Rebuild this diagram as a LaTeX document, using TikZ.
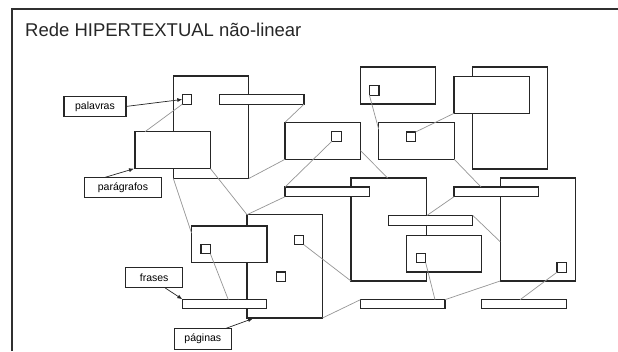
\documentclass[tikz,border=0pt]{standalone}
\usepackage{fontspec}
\setmainfont{Liberation Sans}
\usetikzlibrary{calc,arrows.meta}
\definecolor{boxc}{HTML}{262626}
\definecolor{linkc}{HTML}{959595}
\definecolor{framec}{HTML}{303030}
\begin{document}
\begin{tikzpicture}[x=1pt,y=-1pt,
  box/.style={draw=boxc, line width=1.2pt, fill=white, inner sep=0pt, outer sep=0pt, anchor=north west},
  page/.style={box, minimum width=75.5pt, minimum height=102.5pt},
  card/.style={box, minimum width=75.5pt, minimum height=37pt},
  bar/.style={box, minimum width=84.5pt, minimum height=9.5pt},
  sq/.style={box, minimum width=9.5pt, minimum height=9.5pt},
  lab/.style={box, line width=1.1pt, minimum height=20.5pt, font=\fontsize{10.5}{12}\selectfont},
  link/.style={draw=linkc, line width=0.7pt},
  arr/.style={draw=boxc, line width=0.7pt, -{Latex[length=5pt,width=4pt]}}
]
\useasboundingbox (0,0) rectangle (618,351);
% frame
\coordinate (fbl) at (12,351);
\coordinate (ftl) at (12,9);
\coordinate (ftr) at (618,9);
\draw[framec, line width=1.3pt] (fbl) -- (ftl) -- (ftr);
% title
\node[anchor=base west, inner sep=0pt, font=\fontsize{18.5}{21}\selectfont, text=black!85] (title) at (25,36) {Rede HIPERTEXTUAL não-linear};
% pages
\node[page] (A) at (173.3,76) {};
\node[page, minimum height=102pt] (E) at (472.3,67) {};
\node[page, minimum height=103pt] (G) at (351,178) {};
\node[page, minimum height=103pt] (H) at (500.2,178) {};
\node[page, minimum height=103.3pt] (J) at (247,214.7) {};
% cards
\node[card] (P) at (135,131.7) {};
\node[card] (B) at (285,122.3) {};
\node[card] (C) at (360.3,67) {};
\node[card] (D) at (378.7,122.3) {};
\node[card] (F) at (454,76.3) {};
\node[card, minimum height=36.7pt] (I) at (406.3,235.3) {};
\node[card, minimum height=36.7pt] (K) at (191.5,226) {};
% bars
\node[bar] (bar1) at (219.5,94.7) {};
\node[bar, minimum height=9.7pt] (bar2) at (285,187) {};
\node[bar, minimum height=9.7pt] (bar4) at (454,187) {};
\node[bar, minimum height=10.2pt] (bar5) at (388.3,215.4) {};
\node[bar, minimum height=9pt] (bar6) at (360.4,299.7) {};
\node[bar, minimum height=9pt] (bar7) at (481.8,299.7) {};
\node[bar, minimum height=9pt] (bar8) at (182.3,299.7) {};
% small squares
\node[sq] (sA) at (182.3,94.7) {};
\node[sq] (sB) at (331.8,131.8) {};
\node[sq] (sC) at (369.4,85.7) {};
\node[sq] (sD) at (406.1,132) {};
\node[sq] (sI) at (416.2,253.3) {};
\node[sq] (sH) at (557,262.7) {};
\node[sq] (sK) at (200.9,244.3) {};
\node[sq] (sJa) at (294.3,235.2) {};
\node[sq] (sJb) at (276.1,271.9) {};
% labels
\node[lab, minimum width=62pt] (lpal) at (64,96.2) {palavras};
\node[lab, minimum width=77.5pt] (lpar) at (84.2,177.3) {parágrafos};
\node[lab, minimum width=57pt] (lfra) at (125.7,267.3) {frases};
\node[lab, minimum width=57pt] (lpag) at (174.3,328.7) {páginas};
% links
\draw[link] (sA.south west) -- ($(P.north west)+(10,0)$);
\draw[link] (bar1.south east) -- (B.north west);
\draw[link] (A.south east) -- (B.south west);
\draw[link] (A.south west) -- ($(K.north west)+(0,7)$);
\draw[link] (P.south east) -- (J.north west);
\draw[link] (bar2.south west) -- (J.north west);
\draw[link] (sB.south west) -- (bar2.north west);
\draw[link] (sC.south west) -- ($(D.north west)+(0,7)$);
\draw[link] (sD.north east) -- (F.south west);
\draw[link] ($(B.south east)+(0,-8.6)$) -- ($(G.north west)+(36.7,0)$);
\draw[link] (D.south east) -- ($(bar4.north west)+(27,0)$);
\draw[link] (bar4.south west) -- ($(bar5.north west)+(38.7,0)$);
\draw[link] (bar5.north east) -- ($(H.north west)+(0,63.7)$);
\draw[link] (sJa.south east) -- (G.south west);
\draw[link] (J.south east) -- (bar6.north west);
\draw[link] (sI.south east) -- ($(bar6.north west)+(74.6,0)$);
\draw[link] (bar6.north east) -- (H.south west);
\draw[link] (sH.south west) -- ($(bar7.north west)+(38.3,0)$);
\draw[link] (sK.south east) -- ($(bar8.north west)+(46,0)$);
% arrows
\draw[arr] (lpal.east) -- (sA.west);
\draw[arr] ($(lpar.north west)+(21,0)$) -- ($(P.south west)+(-1,0)$);
\draw[arr] ($(lfra.south west)+(39.3,0)$) -- ($(bar8.north west)+(0,-0.5)$);
\draw[arr] ($(lpag.north west)+(50.7,0)$) -- ($(J.south west)+(6,0.5)$);
\end{tikzpicture}
\end{document}
